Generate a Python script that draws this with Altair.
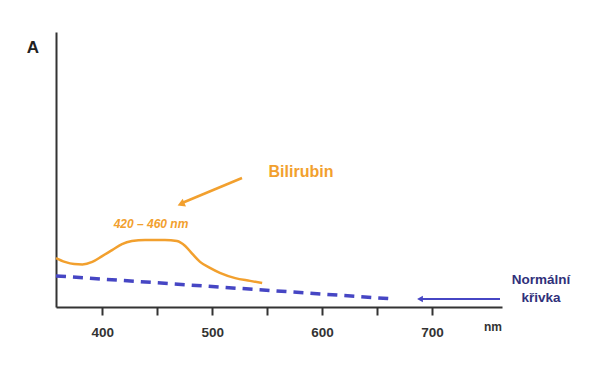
import altair as alt
import pandas as pd

# Bilirubin absorbance curve (wavelength nm, absorbance a.u.)
bili_nm = [358, 366, 374.5, 382, 391, 400, 409, 418, 427, 439, 457, 468, 475.5, 482, 489, 498, 507, 521, 534.5, 545.5]
bili_a = [17.8, 16.4, 15.6, 15.5, 16.4, 18.5, 20.7, 22.9, 24.0, 24.4, 24.4, 24.0, 22.2, 19.3, 16.4, 14.2, 12.4, 10.5, 9.5, 8.7]

# Normal curve (dashed)
norm_nm = [358, 553, 666]
norm_a = [11.3, 6.0, 2.9]

x_ticks = [400, 450, 500, 550, 600, 650, 700]

ORANGE = "#f2a02e"
BLUE = "#4646c4"
NAVY = "#30307a"
DARK = "#333333"
FONT = "Liberation Sans"

bili = pd.DataFrame({"nm": bili_nm, "A": bili_a})
norm = pd.DataFrame({"nm": norm_nm, "A": norm_a})

xscale = alt.Scale(domain=[358, 763.6], nice=False, zero=False)
yscale = alt.Scale(domain=[0, 100], nice=False)

xaxis = alt.Axis(
    values=x_ticks, title=None, grid=False,
    domainColor=DARK, domainWidth=2, tickColor=DARK, tickWidth=2, tickSize=8,
    labelExpr="datum.value % 100 == 0 ? datum.label : ''",
    labelFont=FONT, labelFontSize=13.5, labelFontWeight="bold", labelColor=DARK,
    labelPadding=10, format="d",
)
yaxis = alt.Axis(
    title=None, grid=False, ticks=False, labels=False,
    domainColor=DARK, domainWidth=2,
)

bili_line = alt.Chart(bili).mark_line(
    color=ORANGE, strokeWidth=2.5, interpolate="monotone"
).encode(
    x=alt.X("nm:Q", scale=xscale, axis=xaxis),
    y=alt.Y("A:Q", scale=yscale, axis=yaxis),
)

norm_line = alt.Chart(norm).mark_line(
    color=BLUE, strokeWidth=3.5, strokeDash=[10, 7]
).encode(
    x=alt.X("nm:Q", scale=xscale),
    y=alt.Y("A:Q", scale=yscale),
)

one = pd.DataFrame({"k": [0]})

def text(label, x, y, size, color, weight="bold", style="normal", align="center"):
    return alt.Chart(one).mark_text(
        text=label, font=FONT, fontSize=size, fontWeight=weight, fontStyle=style,
        color=color, align=align, baseline="middle",
    ).encode(x=alt.value(x), y=alt.value(y))

labels = [
    text("A", -23, 16, 17, "#222222"),
    text("nm", 437, 295, 12, DARK),
    text("Bilirubin", 245, 140, 16, ORANGE),
    text("420 – 460 nm", 95, 192, 12, ORANGE, style="italic"),
    text("Normální", 485, 248, 13.5, NAVY),
    text("křivka", 485, 266, 13.5, NAVY),
]

orange_arrow = alt.Chart(one).mark_rule(color=ORANGE, strokeWidth=2.5).encode(
    x=alt.value(186), y=alt.value(146), x2=alt.value(126), y2=alt.value(171)
)
orange_head = alt.Chart(one).mark_point(
    shape="triangle-up", filled=True, color=ORANGE, size=70, angle=247, opacity=1
).encode(x=alt.value(125), y=alt.value(172))

blue_arrow = alt.Chart(one).mark_rule(color=BLUE, strokeWidth=2).encode(
    x=alt.value(444), y=alt.value(267), x2=alt.value(366), y2=alt.value(267)
)
blue_head = alt.Chart(one).mark_point(
    shape="triangle-up", filled=True, color=BLUE, size=45, angle=270, opacity=1
).encode(x=alt.value(364), y=alt.value(267))

chart = alt.layer(
    norm_line, bili_line, orange_arrow, orange_head, blue_arrow, blue_head, *labels
).properties(
    width=446, height=275,
    padding={"left": 48, "top": 24, "right": 80, "bottom": 40},
    autosize=alt.AutoSizeParams(type="none"),
    background="white",
).configure_view(stroke=None)

chart.save("out.html", embed_options={"renderer": "svg", "actions": False})
